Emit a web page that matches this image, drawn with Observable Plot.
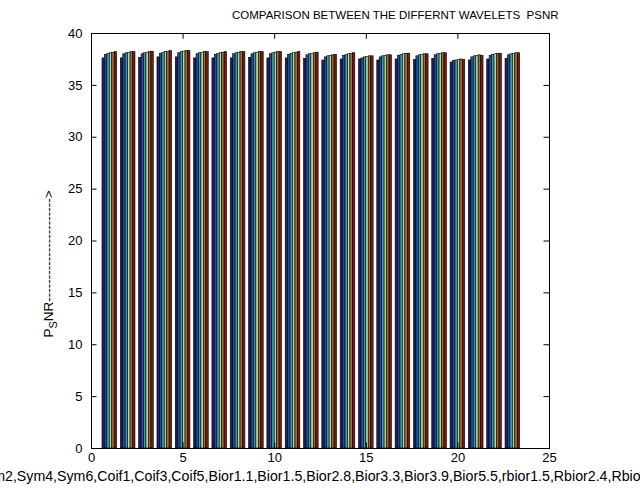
<!DOCTYPE html>
<html><head><meta charset="utf-8">
<script src="https://cdn.jsdelivr.net/npm/d3@7"></script>
<script src="https://cdn.jsdelivr.net/npm/@observablehq/plot@0.6"></script>
<style>
html,body{margin:0;padding:0;background:#fff;}
body{width:640px;height:490px;overflow:hidden;font-family:"Liberation Sans",Arial,sans-serif;color:#000;}
#title{height:24px;font-size:11.5px;line-height:14px;padding-top:8px;box-sizing:border-box;white-space:nowrap;padding-left:232px;}
#chart svg{display:block;}
#xlabel{position:relative;height:20px;overflow:hidden;white-space:nowrap;font-size:14.2px;line-height:15px;}
#xlabel span{position:absolute;top:-1px;}
</style>
</head><body>
<div id="title">COMPARISON BETWEEN THE DIFFERNT WAVELETS&nbsp;&nbsp;PSNR</div>
<div id="chart"></div>
<div id="xlabel"><span id="xl">Sym2,Sym4,Sym6,Coif1,Coif3,Coif5,Bior1.1,Bior1.5,Bior2.8,Bior3.3,Bior3.9,Bior5.5,rbior1.5,Rbior2.4,Rbior3.3</span></div>
<script>
const groups = d3.range(1, 24);
const series1 = [37.6,37.6,37.65,37.7,37.7,37.6,37.6,37.6,37.65,37.6,37.6,37.55,37.4,37.5,37.5,37.4,37.5,37.45,37.55,37.2,37.4,37.5,37.55];
const series2 = [37.95,38.0,38.0,38.05,38.1,38.0,37.95,38.0,38.0,38.0,37.95,37.9,37.7,37.85,37.6,37.7,37.85,37.8,37.9,37.35,37.7,37.85,37.9];
const series3 = [38.05,38.1,38.1,38.15,38.2,38.1,38.05,38.1,38.1,38.1,38.05,38.0,37.8,37.95,37.7,37.8,37.95,37.9,38.0,37.4,37.8,37.95,38.0];
const series4 = [38.1,38.1,38.15,38.2,38.25,38.15,38.1,38.15,38.15,38.15,38.1,38.05,37.85,38.0,37.75,37.85,38.0,37.95,38.05,37.45,37.85,38.0,38.05];
const series5 = [38.15,38.2,38.2,38.25,38.3,38.2,38.15,38.2,38.2,38.2,38.15,38.1,37.9,38.05,37.8,37.9,38.05,38.0,38.1,37.5,37.9,38.05,38.1];
const series6 = [38.2,38.2,38.25,38.3,38.3,38.2,38.2,38.2,38.2,38.2,38.2,38.15,37.95,38.1,37.8,37.9,38.05,38.0,38.1,37.45,37.85,38.05,38.1];
const xTicks = [0,5,10,15,20,25];
const yTicks = [0,5,10,15,20,25,30,35,40];
const colors = ["#17206e","#1f4fa0","#3a9ea6","#b6d69a","#a8693a","#761a12"];

const allSeries = [series1,series2,series3,series4,series5,series6];
const nS = allSeries.length;
const groupWidth = 0.8;
const rows = [];
allSeries.forEach((vals, s) => {
  vals.forEach((v, i) => {
    const g = groups[i];
    const x1 = g - groupWidth/2 + s*groupWidth/nS;
    rows.push({g, s, x1, x2: x1 + groupWidth/nS, value: v});
  });
});

const fontStyle = {fontFamily:'"Liberation Sans", Arial, sans-serif', fontSize:"13px", color:"#000", background:"#fff", overflow:"visible"};

const plot = Plot.plot({
  width: 640,
  height: 446,
  marginTop: 9,
  marginBottom: 22,
  marginLeft: 91,
  marginRight: 91,
  style: fontStyle,
  x: {domain:[0,25], label:null},
  y: {domain:[0,40], label:null},
  marks: [
    Plot.rect(rows, {x1:"x1", x2:"x2", y1:0, y2:"value", fill: d => colors[d.s], stroke:"#000", strokeWidth:0.6}),
    Plot.ruleY(yTicks, {y: d=>d, x1:0, x2:0.3, stroke:"#000"}),
    Plot.ruleY(yTicks, {y: d=>d, x1:24.7, x2:25, stroke:"#000"}),
    Plot.ruleX(xTicks, {x: d=>d, y1:0, y2:0.55, stroke:"#000"}),
    Plot.ruleX(xTicks, {x: d=>d, y1:39.45, y2:40, stroke:"#000"}),
    Plot.frame({stroke:"#000"}),
    Plot.axisX({ticks:xTicks, tickSize:0, tickPadding:4, label:null, fill:"#000"}),
    Plot.axisY({ticks:yTicks, tickSize:0, tickPadding:9, label:null, fill:"#000"})
  ]
});
document.getElementById("chart").appendChild(plot);

// y label with subscript
const svg = d3.select(plot);
const t = svg.append("text")
  .attr("transform", "translate(53,240) rotate(-90)")
  .attr("text-anchor","middle")
  .attr("font-family",'"Liberation Sans", Arial, sans-serif')
  .attr("font-size","13.5px")
  .attr("fill","#000");
t.append("tspan").text("P");
t.append("tspan").attr("font-size","11px").attr("dy","4").text("S");
t.append("tspan").attr("dy","-4").text("NR----------------------->");

// position x label so it is cut like the reference
const xl = document.getElementById("xl");
const probe = document.createElement("span");
probe.style.cssText = "position:absolute;visibility:hidden;white-space:nowrap;font-size:14.2px;";
probe.textContent = "Sym";
document.getElementById("xlabel").appendChild(probe);
xl.style.left = (-(probe.getBoundingClientRect().width) + 5) + "px";
probe.remove();
</script>
</body></html>
